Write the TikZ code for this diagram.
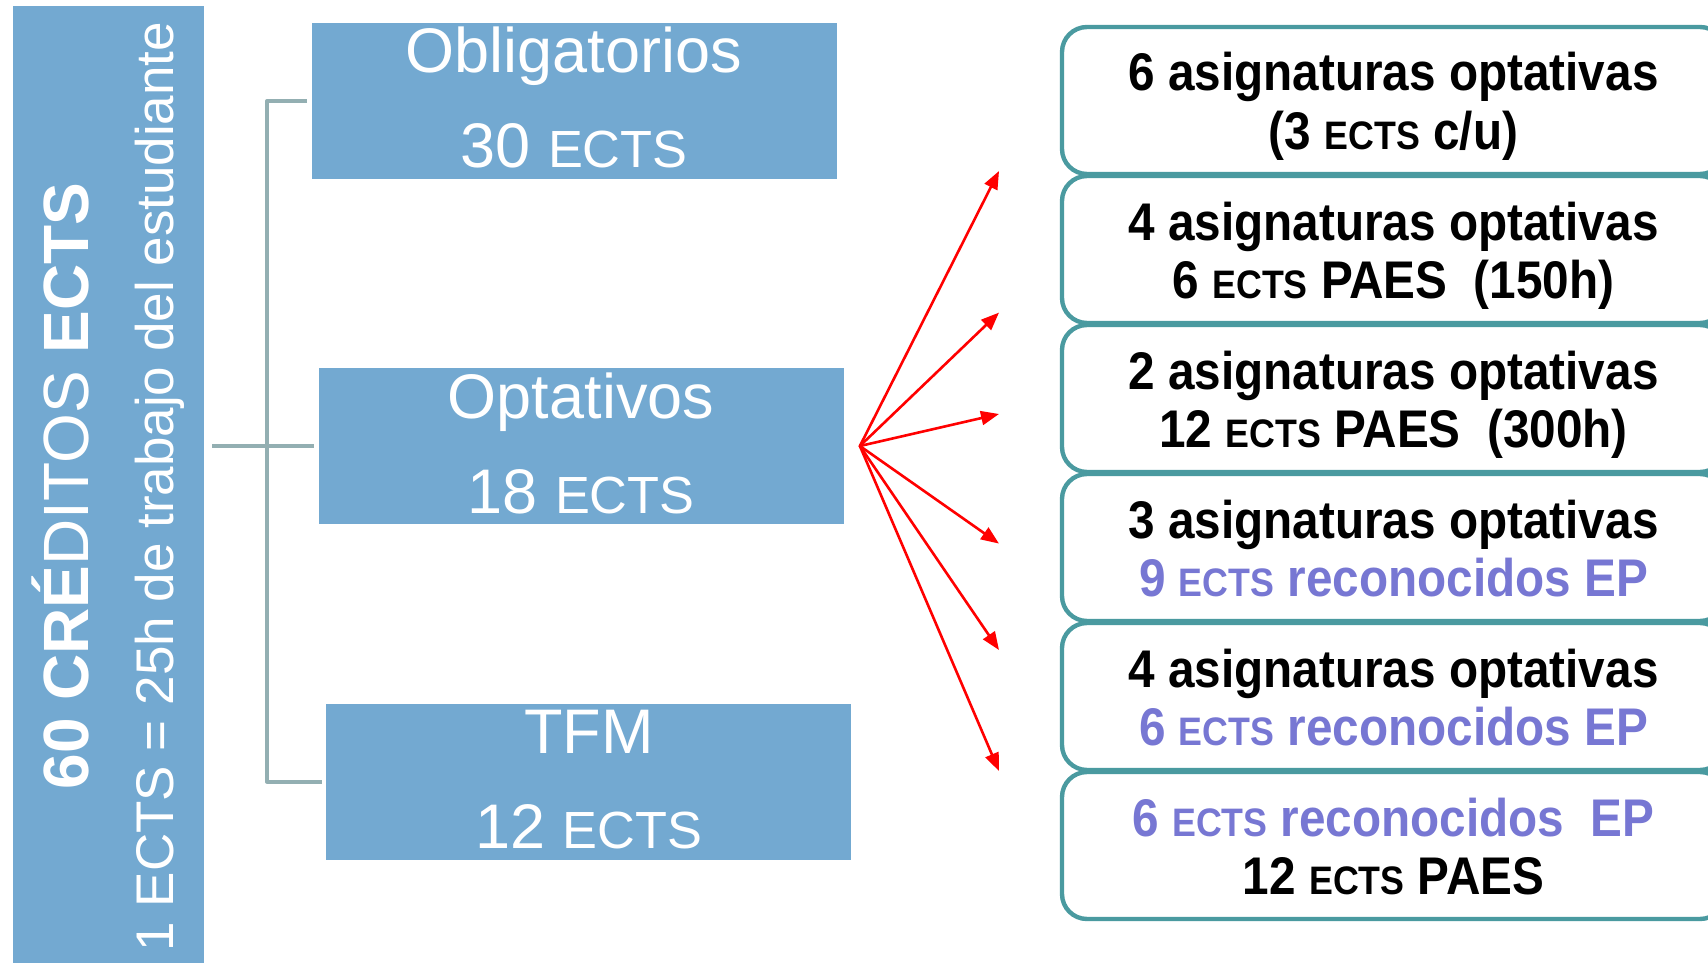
\documentclass[tikz,border=0pt]{standalone}
\usepackage{fontspec}
\setmainfont{Liberation Sans}
\newfontfamily\estrecha{Liberation Sans}[FakeStretch=0.9]
\usepackage{graphicx}
\usetikzlibrary{arrows.meta}
\definecolor{azul}{RGB}{115,169,209}
\definecolor{gris}{RGB}{147,175,178}
\definecolor{verde}{RGB}{74,154,160}
\definecolor{morado}{RGB}{119,119,211}
\newcommand{\ects}[1][0.75]{\scalebox{#1}{ECTS}}

\begin{document}
\begin{tikzpicture}[line cap=round,line join=round,>={Triangle[length=9pt,width=7pt]},x=0.5pt,y=-0.5pt,
  barra/.style={fill=azul,minimum width=95.5pt,minimum height=492pt,inner sep=0pt},
  bloque/.style={fill=azul,text=white,minimum width=262.5pt,minimum height=78pt,inner sep=0pt,
    align=center,text height=71pt,text depth=4pt,font=\fontsize{31.5pt}{47.5pt}\selectfont},
  opcion/.style={draw=verde,line width=2.2pt,rounded corners=12.5pt,fill=white,
    minimum width=331.5pt,minimum height=73.5pt,inner sep=0pt,align=center,
    text height=52.5pt,text depth=4pt,font=\estrecha\fontsize{26.5pt}{29pt}\selectfont\bfseries},
  llave/.style={draw=gris,line width=2pt,line cap=butt},
  flecha/.style={->,red,line width=1.3pt}]
\useasboundingbox (0,0) rectangle (1708,963);
\clip (0,0) rectangle (1708,963);
% barra lateral
\node[barra] (barra) at (108.5,498) {};
\node[rotate=90,anchor=base,text=white,font=\fontsize{32pt}{32pt}\selectfont] (titulo) at (88,486)
  {\textbf{60 CRÉ}DITOS \textbf{ECTS}};
\node[rotate=90,anchor=base,text=white,font=\fontsize{26.5pt}{26.5pt}\selectfont] (lema) at (173,486.5)
  {1 ECTS = 25h de trabajo del estudiante};
%
% bloques de creditos
\node[bloque] (oblig) at (574,101) {Obligatorios\\30 \ects[0.83]};
\node[bloque] (optat) at (581,446) {Optativos\\18 \ects[0.83]};
\node[bloque] (tfm) at (588.8,781.6) {TFM\\12 \ects[0.83]};
\coordinate (cruce) at (267,446);
\draw[llave,shorten <=2pt,shorten >=2pt] (oblig.west) -| (cruce) |- (tfm.west);
\draw[llave,shorten <=4pt,shorten >=2pt] (barra.east |- optat.west) -- (optat.west);
%
% flechas
\coordinate (origen) at ([xshift=8pt]optat.east);
\foreach \yy [count=\i] in {171,312.6,414,543.6,650,771}
  \coordinate (punta\i) at (999,\yy);
\foreach \i in {1,...,6}
  \draw[flecha] (origen) -- (punta\i);
%
% opciones
\node[opcion] (op1) at (1393.5,100.5) {6 asignaturas optativas\\(3 \ects{} c/u)};
\node[opcion] (op2) at (1393.5,249.5) {4 asignaturas optativas\\6 \ects{} PAES\ \ (150h)};
\node[opcion] (op3) at (1393.5,398.5) {2 asignaturas optativas\\12 \ects{} PAES\ \ (300h)};
\node[opcion] (op4) at (1393.5,547.5) {3 asignaturas optativas\\\textcolor{morado}{9 \ects{} reconocidos EP}};
\node[opcion] (op5) at (1393.5,696.5) {4 asignaturas optativas\\\textcolor{morado}{6 \ects{} reconocidos EP}};
\node[opcion] (op6) at (1393.5,845.5) {\textcolor{morado}{6 \ects{} reconocidos\ \ EP}\\12 \ects{} PAES};
\end{tikzpicture}
\end{document}
